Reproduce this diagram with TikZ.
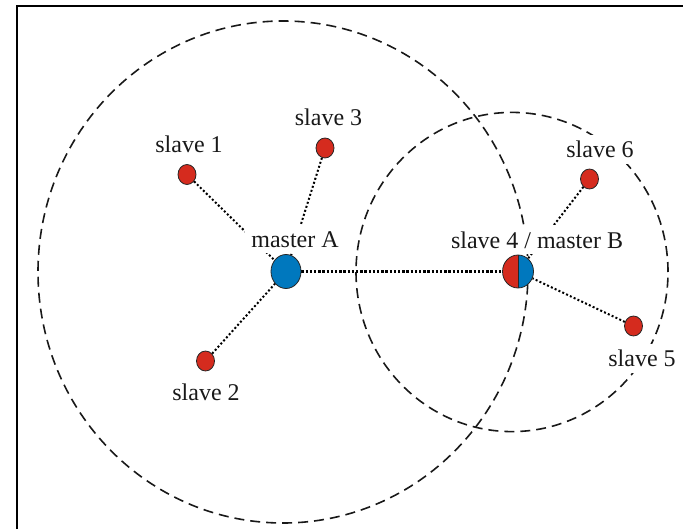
\documentclass[tikz,border=0pt]{standalone}
\usepackage{fontspec}
\setmainfont{Liberation Serif}
\usetikzlibrary{shapes.geometric}
\pgfdeclarelayer{bg}
\pgfdeclarelayer{mid}
\pgfsetlayers{bg,mid,main}
\definecolor{nodered}{HTML}{D52B1E}
\definecolor{nodeblue}{HTML}{0078BE}
\tikzset{
  slavenode/.style={ellipse, draw=black!85, line width=0.4pt, fill=nodered, inner sep=0pt, minimum width=9pt, minimum height=10pt},
  masternode/.style={ellipse, draw=black!85, line width=0.4pt, fill=nodeblue, inner sep=0pt, minimum width=15pt, minimum height=17pt},
  splitnode/.style={ellipse, draw=black!85, line width=0.4pt, inner sep=0pt, minimum width=15.5pt, minimum height=16.5pt,
    path picture={
      \fill[nodered] (path picture bounding box.north west) rectangle (path picture bounding box.south);
      \fill[nodeblue] (path picture bounding box.north) rectangle (path picture bounding box.south east);
      \draw[black!85, line width=0.3pt] (path picture bounding box.north) -- (path picture bounding box.south);
    }},
  lbl/.style={fill=white, inner sep=3pt, anchor=base, font=\fontsize{12}{14}\selectfont, text=black!90},
  conn/.style={line width=1pt, dash pattern=on 1pt off 1.1pt, black},
  bigconn/.style={line width=1.4pt, dash pattern=on 1.2pt off 0.9pt, black},
  rangecircle/.style={line width=0.8pt, dash pattern=on 5pt off 3pt, black!90},
}
\begin{document}
\begin{tikzpicture}[x=0.5pt, y=-0.5pt]
\useasboundingbox (0,0) rectangle (683,529);
% frame
\draw[line width=1pt] (17,529) -- (17,6) -- (683,6);
% nodes
\node[masternode] (A) at (286,271.5) {};
\node[splitnode] (B) at (518,271.5) {};
\node[slavenode] (s1) at (187,174.5) {};
\node[slavenode] (s2) at (205.5,361) {};
\node[slavenode] (s3) at (325,148) {};
\node[slavenode] (s5) at (633.5,326) {};
\node[slavenode] (s6) at (589.5,179) {};
\begin{pgfonlayer}{bg}
  \draw[rangecircle] (283,272) ellipse [x radius=122.5pt, y radius=125.5pt];
  \draw[rangecircle] (512,272) ellipse [x radius=78pt, y radius=79.8pt];
  \draw[conn] (s1) -- (A);
  \draw[conn] (s2) -- (A);
  \draw[conn] (s3) -- (A);
  \draw[bigconn] (A) -- (B);
  \draw[conn] (s6) -- (B);
  \draw[conn] (s5) -- (B);
\end{pgfonlayer}
\begin{pgfonlayer}{mid}
  \node[lbl] (l1) at (189,152.5) {slave 1};
  \node[lbl] (l3) at (328.5,125.5) {slave 3};
  \node[lbl] (l2) at (206,400.5) {slave 2};
  \node[lbl] (lA) at (295,247) {master A};
  \node[lbl] (lB) at (537,248) {slave 4 / master B};
  \node[lbl] (l6) at (600,157.5) {slave 6};
  \node[lbl] (l5) at (642,366.5) {slave 5};
\end{pgfonlayer}
\end{tikzpicture}
\end{document}
